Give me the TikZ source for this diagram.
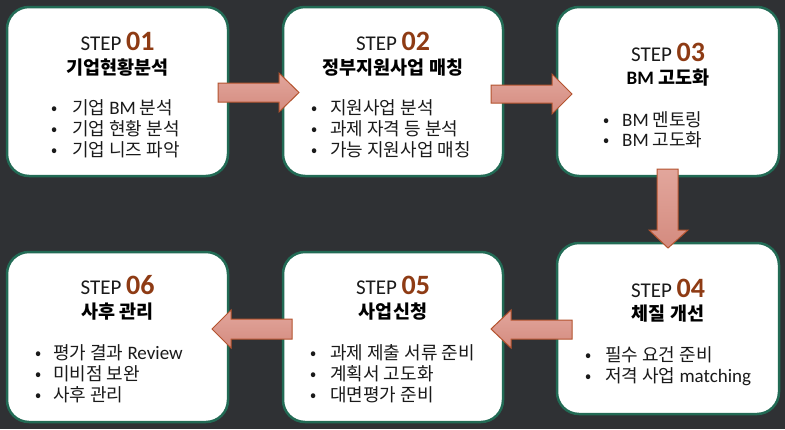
\documentclass[tikz,border=0pt]{standalone}
\usepackage{fontspec}
\setmainfont{Noto Sans CJK KR}
\newfontfamily\stepfont{Carlito}
\newcommand{\lat}[1]{{\stepfont\fontsize{19}{22}\selectfont #1}}
\definecolor{bg}{HTML}{2F3134}
\definecolor{boxgreen}{HTML}{226B55}
\definecolor{numbrown}{HTML}{8E3B14}
\definecolor{arrowedge}{HTML}{B4532E}
\definecolor{arrowtop}{HTML}{E2A69C}
\definecolor{arrowbot}{HTML}{D48B7F}
\definecolor{txt}{HTML}{1A1A1A}
\begin{document}
\begin{tikzpicture}[x=1pt,y=-1pt,
  box/.style={draw=boxgreen, line width=2.5pt, fill=white, rounded corners=22pt, inner sep=0pt},
  steplbl/.style={anchor=base, inner sep=0pt, text=txt, font=\stepfont\fontsize{21}{25}\selectfont},
  ttl/.style={anchor=base, inner sep=0pt, text=black, font=\fontsize{18.5}{22}\selectfont\bfseries},
  bul/.style={anchor=base, inner sep=0pt, text=txt, font=\fontsize{18}{22}\selectfont},
  btxt/.style={anchor=base west, inner sep=0pt, text=txt, font=\fontsize{18}{22}\selectfont},
  blockarrow/.style={draw=arrowedge, line width=1pt, top color=arrowtop, bottom color=arrowbot, line join=miter}
]
\newcommand{\num}[1]{\textcolor{numbrown}{\fontsize{28}{30}\selectfont\bfseries #1}}
\useasboundingbox (0,0) rectangle (785,429);
\fill[bg] (0,0) rectangle (785,429);

% boxes
\node[box, minimum width=221pt, minimum height=169pt] (b1) at (117.5,91.5) {};
\node[box, minimum width=220pt, minimum height=169pt] (b2) at (393,91.5) {};
\node[box, minimum width=222pt, minimum height=169pt] (b3) at (668,91.5) {};
\node[box, minimum width=222pt, minimum height=171pt] (b4) at (668,328.5) {};
\node[box, minimum width=220pt, minimum height=170pt] (b5) at (393,337) {};
\node[box, minimum width=221pt, minimum height=170pt] (b6) at (117.5,337) {};

% arrows
\path[blockarrow] (218,83) -- (279,83) -- (279,73) -- (299,92.5) -- (279,112) -- (279,102) -- (218,102) -- cycle;
\path[blockarrow] (491,85) -- (552,85) -- (552,74) -- (572,94) -- (552,114) -- (552,103) -- (491,103) -- cycle;
\path[blockarrow] (657,169) -- (678,169) -- (678,230) -- (688,230) -- (668,248) -- (649,230) -- (657,230) -- cycle;
\path[blockarrow] (572,320) -- (511,320) -- (511,310) -- (491,329) -- (511,348) -- (511,339) -- (572,339) -- cycle;
\path[blockarrow] (292,319) -- (231,319) -- (231,310) -- (212,329) -- (231,348) -- (231,339) -- (292,339) -- cycle;

% box 1
\node[steplbl] (s1) at (117.5,50) {STEP \num{01}};
\node[ttl] (t1) at (117.5,74) {기업현황분석};
\node[bul] (d1a) at (55,114) {•};
\node[btxt] (l1a) at (72,114) {기업 \lat{BM} 분석};
\node[bul] (d1b) at (55,135) {•};
\node[btxt] (l1b) at (72,135) {기업 현황 분석};
\node[bul] (d1c) at (55,156) {•};
\node[btxt] (l1c) at (72,156) {기업 니즈 파악};

% box 2
\node[steplbl] (s2) at (393,50) {STEP \num{02}};
\node[ttl] (t2) at (393,74) {정부지원사업 매칭};
\node[bul] (d2a) at (315,114) {•};
\node[btxt] (l2a) at (330,114) {지원사업 분석};
\node[bul] (d2b) at (315,135) {•};
\node[btxt] (l2b) at (330,135) {과제 자격 등 분석};
\node[bul] (d2c) at (315,156) {•};
\node[btxt] (l2c) at (330,156) {가능 지원사업 매칭};

% box 3
\node[steplbl] (s3) at (668,61) {STEP \num{03}};
\node[ttl] (t3) at (668,84) {\lat{\bfseries BM} 고도화};
\node[bul] (d3a) at (607,126) {•};
\node[btxt] (l3a) at (622,126) {\lat{BM} 멘토링};
\node[bul] (d3b) at (607,146) {•};
\node[btxt] (l3b) at (622,146) {\lat{BM} 고도화};

% box 4
\node[steplbl] (s4) at (668,297) {STEP \num{04}};
\node[ttl] (t4) at (668,320) {체질 개선};
\node[bul] (d4a) at (589,361) {•};
\node[btxt] (l4a) at (605,361) {필수 요건 준비};
\node[bul] (d4b) at (589,382) {•};
\node[btxt] (l4b) at (605,382) {저격 사업 \lat{matching}};

% box 5
\node[steplbl] (s5) at (393,294) {STEP \num{05}};
\node[ttl] (t5) at (393,318) {사업신청};
\node[bul] (d5a) at (314,359) {•};
\node[btxt] (l5a) at (330,359) {과제 제출 서류 준비};
\node[bul] (d5b) at (314,380) {•};
\node[btxt] (l5b) at (330,380) {계획서 고도화};
\node[bul] (d5c) at (314,401) {•};
\node[btxt] (l5c) at (330,401) {대면평가 준비};

% box 6
\node[steplbl] (s6) at (117.5,294) {STEP \num{06}};
\node[ttl] (t6) at (117.5,318) {사후 관리};
\node[bul] (d6a) at (39,359) {•};
\node[btxt] (l6a) at (53,359) {평가 결과 \lat{Review}};
\node[bul] (d6b) at (39,380) {•};
\node[btxt] (l6b) at (53,380) {미비점 보완};
\node[bul] (d6c) at (39,401) {•};
\node[btxt] (l6c) at (53,401) {사후 관리};
\end{tikzpicture}
\end{document}
